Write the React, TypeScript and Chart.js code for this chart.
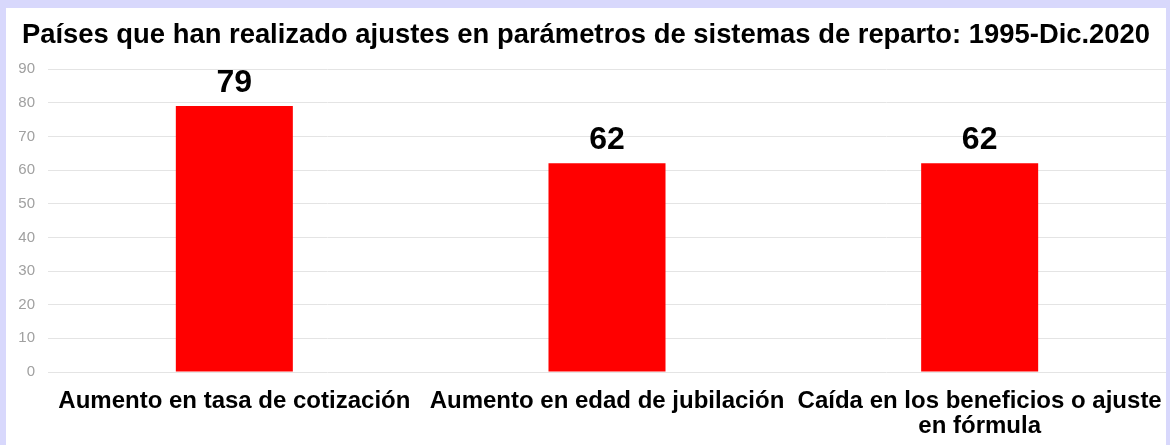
import React, { useEffect, useRef } from "react";
import { Chart, registerables } from "chart.js";

Chart.register(...registerables);

const titleText = "Países que han realizado ajustes en parámetros de sistemas de reparto: 1995-Dic.2020";
const categories: (string | string[])[] = [
  "Aumento en tasa de cotización",
  "Aumento en edad de jubilación",
  ["Caída en los beneficios o ajuste", "en fórmula"],
];
const values: number[] = [79, 62, 62];
const yMax = 90;
const yStep = 10;

const FONT = "'Liberation Sans', Arial, sans-serif";

const valueLabels = {
  id: "valueLabels",
  afterDatasetsDraw(chart: any) {
    const ctx = chart.ctx;
    const meta = chart.getDatasetMeta(0);
    ctx.save();
    ctx.font = `bold 32px ${FONT}`;
    ctx.fillStyle = "#000";
    ctx.textAlign = "center";
    ctx.textBaseline = "alphabetic";
    meta.data.forEach((el: any, i: number) => {
      ctx.fillText(String(chart.data.datasets[0].data[i]), el.x, el.y - 14);
    });
    ctx.restore();
  },
};

export default function App() {
  const ref = useRef<HTMLCanvasElement | null>(null);
  useEffect(() => {
    const prevMargin = document.body.style.margin;
    document.body.style.margin = "0";
    if (!ref.current) return;
    const chart = new Chart(ref.current, {
      type: "bar",
      data: {
        labels: categories,
        datasets: [
          {
            data: values,
            backgroundColor: "#ff0000",
            borderWidth: 0,
            barPercentage: 0.314,
            categoryPercentage: 1,
          },
        ],
      },
      options: {
        responsive: false,
        animation: false,
        layout: { padding: { left: 0, right: 0, top: 0, bottom: 0 } },
        plugins: {
          legend: { display: false },
          tooltip: { enabled: false },
          title: {
            display: true,
            text: titleText,
            color: "#000",
            font: { family: FONT, size: 27.4, weight: "bold", lineHeight: 1.2 },
            padding: { top: 11, bottom: 17.2 },
          },
        },
        scales: {
          x: {
            grid: { display: false, drawTicks: false },
            border: { display: false },
            ticks: {
              color: "#000",
              padding: 17,
              maxRotation: 0,
              autoSkip: false,
              font: { family: FONT, size: 24, weight: "bold", lineHeight: 1.05 },
            },
            afterFit: (s: any) => {
              s.height = 73;
              s.paddingLeft = 0;
              s.paddingRight = 0;
            },
          },
          y: {
            min: 0,
            max: yMax,
            grid: { color: "#e4e4e4", drawTicks: false, lineWidth: 1 },
            border: { display: false },
            ticks: {
              stepSize: yStep,
              color: "#a0a0a0",
              padding: 13,
              font: { family: FONT, size: 15 },
            },
            afterFit: (s: any) => {
              s.width = 42;
            },
          },
        },
      },
      plugins: [valueLabels],
    });
    return () => {
      chart.destroy();
      document.body.style.margin = prevMargin;
    };
  }, []);

  return (
    <div
      style={{
        position: "fixed",
        left: 0,
        top: 0,
        width: 1170,
        height: 445,
        background: "#d8d8fc",
        overflow: "hidden",
      }}
    >
      <div
        style={{
          position: "absolute",
          left: 6,
          top: 8,
          width: 1160,
          height: 437,
          background: "#ffffff",
        }}
      >
        <canvas ref={ref} width={1160} height={437} style={{ display: "block" }} />
      </div>
    </div>
  );
}
